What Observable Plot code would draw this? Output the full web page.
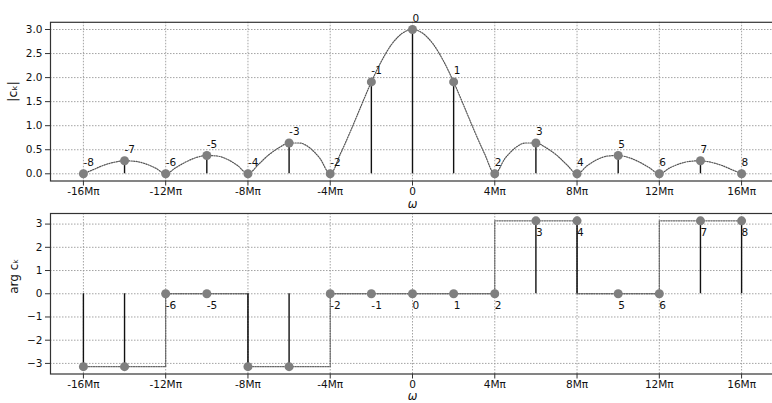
<!DOCTYPE html>
<html>
<head>
<meta charset="utf-8">
<script src="https://cdn.jsdelivr.net/npm/d3@7"></script>
<script src="https://cdn.jsdelivr.net/npm/@observablehq/plot@0.6"></script>
<style>
  html, body { margin: 0; padding: 0; background: white; }
  #chart svg { display: block; overflow: hidden; }
</style>
</head>
<body>
<div id="chart"></div>
<script>
// ---- data (ω in units of Mπ) ----
const kIndex = [-8, -7, -6, -5, -4, -3, -2, -1, 0, 1, 2, 3, 4, 5, 6, 7, 8];
const omegaMpi = [-16, -14, -12, -10, -8, -6, -4, -2, 0, 2, 4, 6, 8, 10, 12, 14, 16];
const magnitude = [0, 0.27, 0, 0.38, 0, 0.64, 0, 1.91, 3.0, 1.91, 0, 0.64, 0, 0.38, 0, 0.27, 0];
const phase = [-3.14, -3.14, 0, 0, -3.14, -3.14, 0, 0, 0, 0, 0, 3.14, 3.14, 0, 0, 3.14, 3.14];

// envelope of |c_k|
const envOmega = [
  -16, -15.5, -15, -14.5, -14, -13.5, -13, -12.5, -12,
  -11.5, -11, -10.5, -10, -9.5, -9, -8.5, -8,
  -7.5, -7, -6.5, -6, -5.5, -5, -4.5, -4,
  -3.5, -3, -2.5, -2, -1.5, -1, -0.5, 0,
  0.5, 1, 1.5, 2, 2.5, 3, 3.5, 4,
  4.5, 5, 5.5, 6, 6.5, 7, 7.5, 8,
  8.5, 9, 9.5, 10, 10.5, 11, 11.5, 12,
  12.5, 13, 13.5, 14, 14.5, 15, 15.5, 16
];
const envMag = [
  0, 0.09, 0.18, 0.24, 0.27, 0.26, 0.21, 0.12, 0,
  0.13, 0.25, 0.34, 0.38, 0.37, 0.30, 0.17, 0,
  0.19, 0.39, 0.54, 0.64, 0.64, 0.54, 0.32, 0,
  0.42, 0.90, 1.41, 1.91, 2.35, 2.70, 2.92, 3.0,
  2.92, 2.70, 2.35, 1.91, 1.41, 0.90, 0.42, 0,
  0.32, 0.54, 0.64, 0.64, 0.54, 0.39, 0.19, 0,
  0.17, 0.30, 0.37, 0.38, 0.34, 0.25, 0.13, 0,
  0.12, 0.21, 0.26, 0.27, 0.24, 0.18, 0.09, 0
];

// phase step line (step-after)
const stepOmega = [-16, -12, -8, -4, 4, 8, 12, 16];
const stepPhase = [-3.14, 0, -3.14, 0, 3.14, 0, 3.14, 3.14];

// ticks
const xTicks = [-16, -12, -8, -4, 0, 4, 8, 12, 16];
const xTickLabels = ["-16Mπ", "-12Mπ", "-8Mπ", "-4Mπ", "0", "4Mπ", "8Mπ", "12Mπ", "16Mπ"];
const yTicksTop = [0, 0.5, 1.0, 1.5, 2.0, 2.5, 3.0];
const yTicksBottom = [-3, -2, -1, 0, 1, 2, 3];

// ---- tables ----
const points = kIndex.map((k, i) => ({k, w: omegaMpi[i], mag: magnitude[i], ph: phase[i]}));
const envelope = envOmega.map((w, i) => ({w, m: envMag[i]}));
const steps = stepOmega.map((w, i) => ({w, p: stepPhase[i]}));

const font = {fontFamily: "DejaVu Sans, sans-serif", fontSize: "10.5px", color: "#111", background: "white", overflow: "hidden"};
const gridStyle = {stroke: "#9a9a9a", strokeOpacity: 1, strokeWidth: 0.9, strokeDasharray: "1.5,1.5"};
const xFormat = d => xTickLabels[xTicks.indexOf(d)];

const magPlot = Plot.plot({
  width: 772,
  height: 211,
  marginLeft: 50, marginRight: -2, marginTop: 21.8, marginBottom: 30.5,
  style: font,
  x: {domain: [-17.6, 17.6], range: [50, 774]},
  y: {domain: [-0.15, 3.15], range: [180.5, 21.8]},
  marks: [
    Plot.gridX(xTicks, gridStyle),
    Plot.gridY(yTicksTop, gridStyle),
    Plot.axisX(xTicks, {tickFormat: xFormat, tickSize: 5, tickPadding: 2, label: null, stroke: "#333"}),
    Plot.axisY(yTicksTop, {tickFormat: d3.format(".1f"), tickSize: 5, tickPadding: 3, label: null, stroke: "#333"}),
    Plot.line(envelope, {x: "w", y: "m", curve: "monotone-x", stroke: "#555", strokeWidth: 1.2, strokeDasharray: "1.2,1.3"}),
    Plot.ruleX(points, {x: "w", y1: 0, y2: "mag", stroke: "#111", strokeWidth: 1.4}),
    Plot.dot(points, {x: "w", y: "mag", r: 4.5, fill: "#7f7f7f", stroke: "none"}),
    Plot.text(points, {x: "w", y: "mag", text: "k", textAnchor: "start", dx: 0, dy: -11, fill: "#111", fontSize: 10.5}),
    Plot.frame({stroke: "#333", strokeWidth: 1.2}),
    Plot.text(["ω"], {frameAnchor: "bottom", dy: 27, fontStyle: "italic", fontSize: 11.5, fill: "#111"}),
    Plot.text(["|cₖ|"], {frameAnchor: "left", rotate: -90, dx: -38, fontSize: 12.5, fill: "#111"})
  ]
});

const argPlot = Plot.plot({
  width: 772,
  height: 192,
  marginLeft: 50, marginRight: -2, marginTop: 2, marginBottom: 29.5,
  style: font,
  x: {domain: [-17.6, 17.6], range: [50, 774]},
  y: {domain: [-3.456, 3.456], range: [162.5, 2]},
  marks: [
    Plot.gridX(xTicks, gridStyle),
    Plot.gridY(yTicksBottom, gridStyle),
    Plot.axisX(xTicks, {tickFormat: xFormat, tickSize: 5, tickPadding: 2, label: null, stroke: "#333"}),
    Plot.axisY(yTicksBottom, {tickFormat: d => d < 0 ? "−" + Math.abs(d) : String(d), tickSize: 5, tickPadding: 3, label: null, stroke: "#333"}),
    Plot.line(steps, {x: "w", y: "p", curve: "step-after", stroke: "#666", strokeWidth: 1.3, strokeDasharray: "1.2,1.3"}),
    Plot.ruleX(points, {x: "w", y1: 0, y2: "ph", stroke: "#111", strokeWidth: 1.4}),
    Plot.dot(points, {x: "w", y: "ph", r: 4.5, fill: "#7f7f7f", stroke: "none"}),
    Plot.text(points.filter(d => d.ph >= 0), {x: "w", y: "ph", text: "k", textAnchor: "start", dx: 0, dy: 12, fill: "#111", fontSize: 10.5}),
    Plot.frame({stroke: "#333", strokeWidth: 1.2}),
    Plot.text(["ω"], {frameAnchor: "bottom", dy: 26, fontStyle: "italic", fontSize: 11.5, fill: "#111"}),
    Plot.text(["arg cₖ"], {frameAnchor: "left", rotate: -90, dx: -36, fontSize: 12, fill: "#111"})
  ]
});

const chart = document.getElementById("chart");
chart.appendChild(magPlot);
chart.appendChild(argPlot);
</script>
</body>
</html>
